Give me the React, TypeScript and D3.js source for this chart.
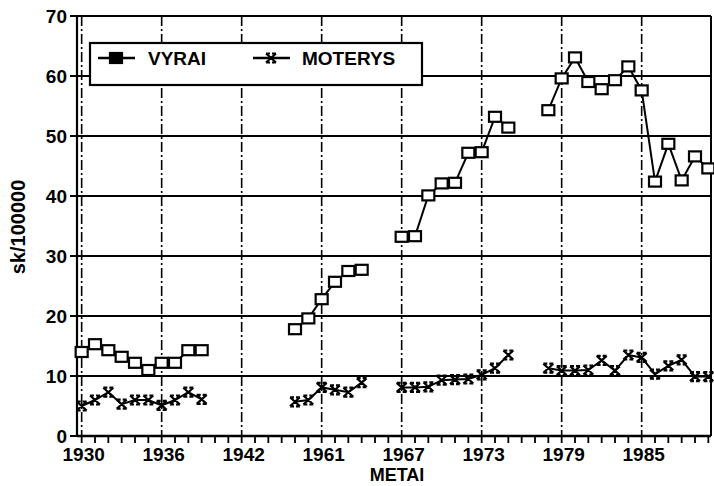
import React from 'react';
import * as d3 from 'd3';

// slot index -> year (the axis skips 1943-1955)
const years = [
    1930, 1931, 1932, 1933, 1934, 1935, 1936, 1937, 1938, 1939, 1940, 1941, 1942,
    1956, 1957, 1958, 1959, 1960, 1961, 1962, 1963, 1964, 1965, 1966, 1967, 1968,
    1969, 1970, 1971, 1972, 1973, 1974, 1975, 1976, 1977, 1978, 1979, 1980, 1981,
    1982, 1983, 1984, 1985, 1986, 1987, 1988, 1989, 1990
];
const tickYears = [1930, 1936, 1942, 1961, 1967, 1973, 1979, 1985];
const yTicks = [0, 10, 20, 30, 40, 50, 60, 70];

const vyrai: (number | null)[] = [
    14.0, 15.3, 14.3, 13.2, 12.2, 11.0, 12.2, 12.2, 14.3, 14.3, null, null, null,
    null, null, null, 17.8, 19.6, 22.8, 25.7, 27.5, 27.7, null, null, 33.2, 33.3,
    40.1, 42.1, 42.2, 47.2, 47.3, 53.2, 51.4, null, null, 54.3, 59.6, 63.1, 59.0,
    57.8, 59.3, 61.6, 57.6, 42.4, 48.7, 42.6, 46.6, 44.6
];
const moterys: (number | null)[] = [
    5.0, 6.0, 7.3, 5.3, 6.0, 6.0, 5.1, 6.0, 7.3, 6.1, null, null, null,
    null, null, null, 5.7, 6.0, 8.1, 7.7, 7.3, 8.9, null, null, 8.1, 8.1,
    8.2, 9.3, 9.4, 9.5, 10.2, 11.3, 13.5, null, null, 11.3, 10.9, 10.9, 11.0,
    12.6, 10.9, 13.5, 13.1, 10.3, 11.7, 12.7, 9.9, 9.9
];

const width = 714;
const height = 486;
const font = '"Liberation Sans", Arial, sans-serif';

function Square({ x, y, filled }: { x: number; y: number; filled?: boolean }) {
    return <rect x={x - 6} y={y - 5} width={12} height={10}
        fill={filled ? '#000' : '#fff'} stroke="#000" strokeWidth={2.2} />;
}

function Star({ x, y }: { x: number; y: number }) {
    const w = 5, h = 4.5;
    return <path
        d={`M${x - w},${y - h}L${x + w},${y + h}M${x + w},${y - h}L${x - w},${y + h}` +
            `M${x - w},${y - h}H${x - 1}M${x + 1},${y - h}H${x + w}` +
            `M${x - w},${y + h}H${x - 1}M${x + 1},${y + h}H${x + w}`}
        fill="none" stroke="#000" strokeWidth={2.2} />;
}

export default function App() {
    const x = d3.scaleLinear().domain([-0.35, 47.2]).range([77, 711]);
    const y = d3.scaleLinear().domain([0, 70]).range([436, 16]);

    const line = d3.line<number | null>()
        .defined(d => d !== null)
        .x((_, i) => x(i))
        .y(d => y(d as number));

    const slots = years.map((_, i) => i);

    return (
        <svg width={width} height={height} style={{ position: 'absolute', left: 0, top: 0, background: '#fff' }}
            fontFamily={font} fontWeight="bold">
            {/* horizontal grid */}
            {yTicks.filter(t => t > 0).map(t => (
                <line key={'h' + t} x1={77} x2={711} y1={y(t)} y2={y(t)} stroke="#000" strokeWidth={2} />
            ))}
            {/* vertical grid */}
            {tickYears.map(yr => {
                const i = years.indexOf(yr);
                return <line key={'v' + yr} x1={x(i)} x2={x(i)} y1={y(70)} y2={y(0)}
                    stroke="#000" strokeWidth={1.6} strokeDasharray="10,3,2,3" />;
            })}
            {/* frame */}
            <line x1={77} x2={77} y1={y(70)} y2={y(0)} stroke="#000" strokeWidth={2.2} />
            <line x1={711} x2={711} y1={y(70)} y2={y(0)} stroke="#000" strokeWidth={2} />
            <line x1={77} x2={711} y1={y(0)} y2={y(0)} stroke="#000" strokeWidth={2.4} />

            {/* y ticks */}
            {yTicks.map(t => (
                <g key={'yt' + t}>
                    <line x1={70} x2={77} y1={y(t)} y2={y(t)} stroke="#000" strokeWidth={2} />
                    <text x={67} y={y(t) + 7} textAnchor="end" fontSize={19}>{t}</text>
                </g>
            ))}
            {/* x minor ticks */}
            {slots.map(i => (
                <line key={'xt' + i} x1={x(i)} x2={x(i)} y1={y(0)} y2={y(0) + 7} stroke="#000" strokeWidth={1.8} />
            ))}
            {tickYears.map(yr => (
                <text key={'xl' + yr} x={x(years.indexOf(yr)) + 2} y={461} textAnchor="middle" fontSize={19}>{yr}</text>
            ))}

            {/* axis titles */}
            <text x={397} y={481} textAnchor="middle" fontSize={18}>METAI</text>
            <text transform="translate(25,227) rotate(-90)" textAnchor="middle" fontSize={20}>sk/100000</text>

            {/* series */}
            <path d={line(moterys) || ''} fill="none" stroke="#000" strokeWidth={2} />
            <path d={line(vyrai) || ''} fill="none" stroke="#000" strokeWidth={2} />
            {moterys.map((v, i) => v === null ? null : <Star key={'m' + i} x={x(i)} y={y(v)} />)}
            {vyrai.map((v, i) => v === null ? null : <Square key={'v' + i} x={x(i)} y={y(v)} />)}

            {/* legend */}
            <rect x={90} y={43} width={332} height={42} fill="#fff" stroke="#000" strokeWidth={2.2} />
            <line x1={98} x2={135} y1={58} y2={58} stroke="#000" strokeWidth={2.5} />
            <Square x={116} y={58} filled />
            <text x={148} y={65} fontSize={19}>VYRAI</text>
            <line x1={253} x2={290} y1={58} y2={58} stroke="#000" strokeWidth={2.5} />
            <Star x={271} y={58} />
            <text x={302} y={65} fontSize={19}>MOTERYS</text>
        </svg>
    );
}
